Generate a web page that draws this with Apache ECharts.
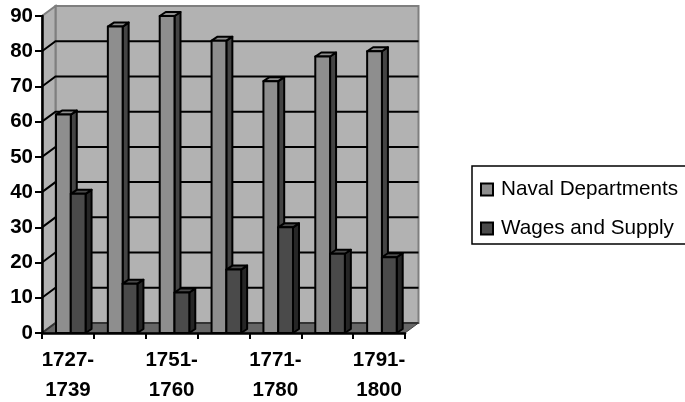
<!DOCTYPE html>
<html><head><meta charset="utf-8">
<style>html,body{margin:0;padding:0;background:#fff}#c{width:685px;height:402px}</style>
<script src="https://cdn.jsdelivr.net/npm/echarts@6/dist/echarts.min.js"></script>
</head><body><div id="c"></div>
<script>
const categories = ['1727-\n1739','1740-\n1750','1751-\n1760','1761-\n1770','1771-\n1780','1781-\n1790','1791-\n1800'];
const naval = [62, 87, 90, 83, 71.5, 78.5, 80];
const wages = [39.5, 14, 11.5, 18, 30, 22.5, 21.5];
const yTicks = [0,10,20,30,40,50,60,70,80,90];
const FONT = '"Liberation Sans", Arial, sans-serif';
const WALL_DX = 13.5, WALL_DY = 10, BAR_DX = 6, BAR_DY = 4;
const INK = '#000';

function wallItem(params, api) {
  const v = api.value(0);
  const left = api.coord([0, v]);
  const size = api.size([1, 0])[0];
  const x0 = left[0] - size / 2, y = left[1];
  const x1 = x0 + size * 7;
  const children = [];
  const bottom = api.coord([0, 0])[1], top = api.coord([0, 90])[1];
  if (v === 0) {
    children.push({type:'polygon', shape:{points:[[x0+WALL_DX,bottom-WALL_DY],[x1+WALL_DX,bottom-WALL_DY],[x1+WALL_DX,top-WALL_DY],[x0+WALL_DX,top-WALL_DY]]},
      style:{fill:'#b2b2b2', stroke:'#7f7f7f', lineWidth:2}});
    children.push({type:'polygon', shape:{points:[[x0,bottom],[x0+WALL_DX,bottom-WALL_DY],[x0+WALL_DX,top-WALL_DY],[x0,top]]},
      style:{fill:'#b2b2b2', stroke:'#7f7f7f', lineWidth:2}});
    children.push({type:'polygon', shape:{points:[[x0,bottom],[x1,bottom],[x1+WALL_DX,bottom-WALL_DY],[x0+WALL_DX,bottom-WALL_DY]]},
      style:{fill:'#666', stroke:'#444', lineWidth:1}});
  }
  if (v !== 90) {
    children.push({type:'polyline', shape:{points:[[x0,y],[x0+WALL_DX,y-WALL_DY],[x1+WALL_DX,y-WALL_DY]]},
      style:{fill:null, stroke: v === 0 ? '#333' : INK, lineWidth: 2}});
  }
  return {type:'group', children};
}

function barItem(offset, front, side) {
  return function (params, api) {
    const c = api.coord([api.value(0), api.value(1)]);
    const b = api.coord([api.value(0), 0]);
    const band = api.size([1, 0])[0];
    const w = band * 0.285;
    const x = c[0] + band * offset, y = c[1], y0 = b[1], x2 = x + w;
    const st = (fill) => ({fill, stroke: INK, lineWidth: 2, lineJoin:'round'});
    return {type:'group', children:[
      {type:'polygon', shape:{points:[[x2,y0],[x2+BAR_DX,y0-BAR_DY],[x2+BAR_DX,y-BAR_DY],[x2,y]]}, style:st(side)},
      {type:'polygon', shape:{points:[[x,y],[x+BAR_DX,y-BAR_DY],[x2+BAR_DX,y-BAR_DY],[x2,y]]}, style:st(front)},
      {type:'rect', shape:{x, y, width:w, height:y0-y}, style:st(front)}
    ]};
  };
}

const chart = echarts.init(document.getElementById('c'), null, {renderer:'canvas'});
chart.setOption({
  animation:false,
  backgroundColor:'#fff',
  grid:{left:42, top:16, width:363, height:317, containLabel:false, outerBoundsMode:'none'},
  legend:{
    left:472, top:166, orient:'vertical', data:['Naval Departments','Wages and Supply'],
    icon:'rect', itemWidth:12, itemHeight:12, itemGap:18, padding:[13,40,5,8],
    borderColor:'#000', borderWidth:1.5, backgroundColor:'#fff',
    textStyle:{fontFamily:FONT, fontSize:20.7, color:'#000', padding:[0,0,0,3]}
  },
  xAxis:{type:'category', data:categories, z:5,
    axisLine:{lineStyle:{color:INK, width:2.5}},
    axisTick:{show:true, interval:0, length:6, lineStyle:{color:INK, width:2}},
    axisLabel:{interval:1, fontFamily:FONT, fontSize:20.5, fontWeight:'bold', color:'#000', lineHeight:30, margin:12},
    splitLine:{show:false}},
  yAxis:{type:'value', min:0, max:90, interval:10, z:5,
    axisLine:{show:true, lineStyle:{color:INK, width:2.5}},
    axisTick:{show:true, length:7, lineStyle:{color:INK, width:2}},
    axisLabel:{fontFamily:FONT, fontSize:20.5, fontWeight:'bold', color:'#000', margin:9},
    splitLine:{show:false}},
  series:[
    {name:'wall', type:'custom', z:1, silent:true, clip:false, renderItem:wallItem, data:yTicks.map(v=>[v]), encode:{y:0}, coordinateSystem:'cartesian2d'},
    {name:'Naval Departments', type:'custom', z:2, clip:false, itemStyle:{color:'#8e8e8e', borderColor:'#000', borderWidth:1.5}, renderItem:barItem(-0.23,'#8e8e8e','#444'), data:naval.map((v,i)=>[i,v]), encode:{x:0,y:1}},
    {name:'Wages and Supply', type:'custom', z:3, clip:false, itemStyle:{color:'#4a4a4a', borderColor:'#000', borderWidth:1.5}, renderItem:barItem(0.055,'#4a4a4a','#262626'), data:wages.map((v,i)=>[i,v]), encode:{x:0,y:1}}
  ]
});
</script></body></html>
